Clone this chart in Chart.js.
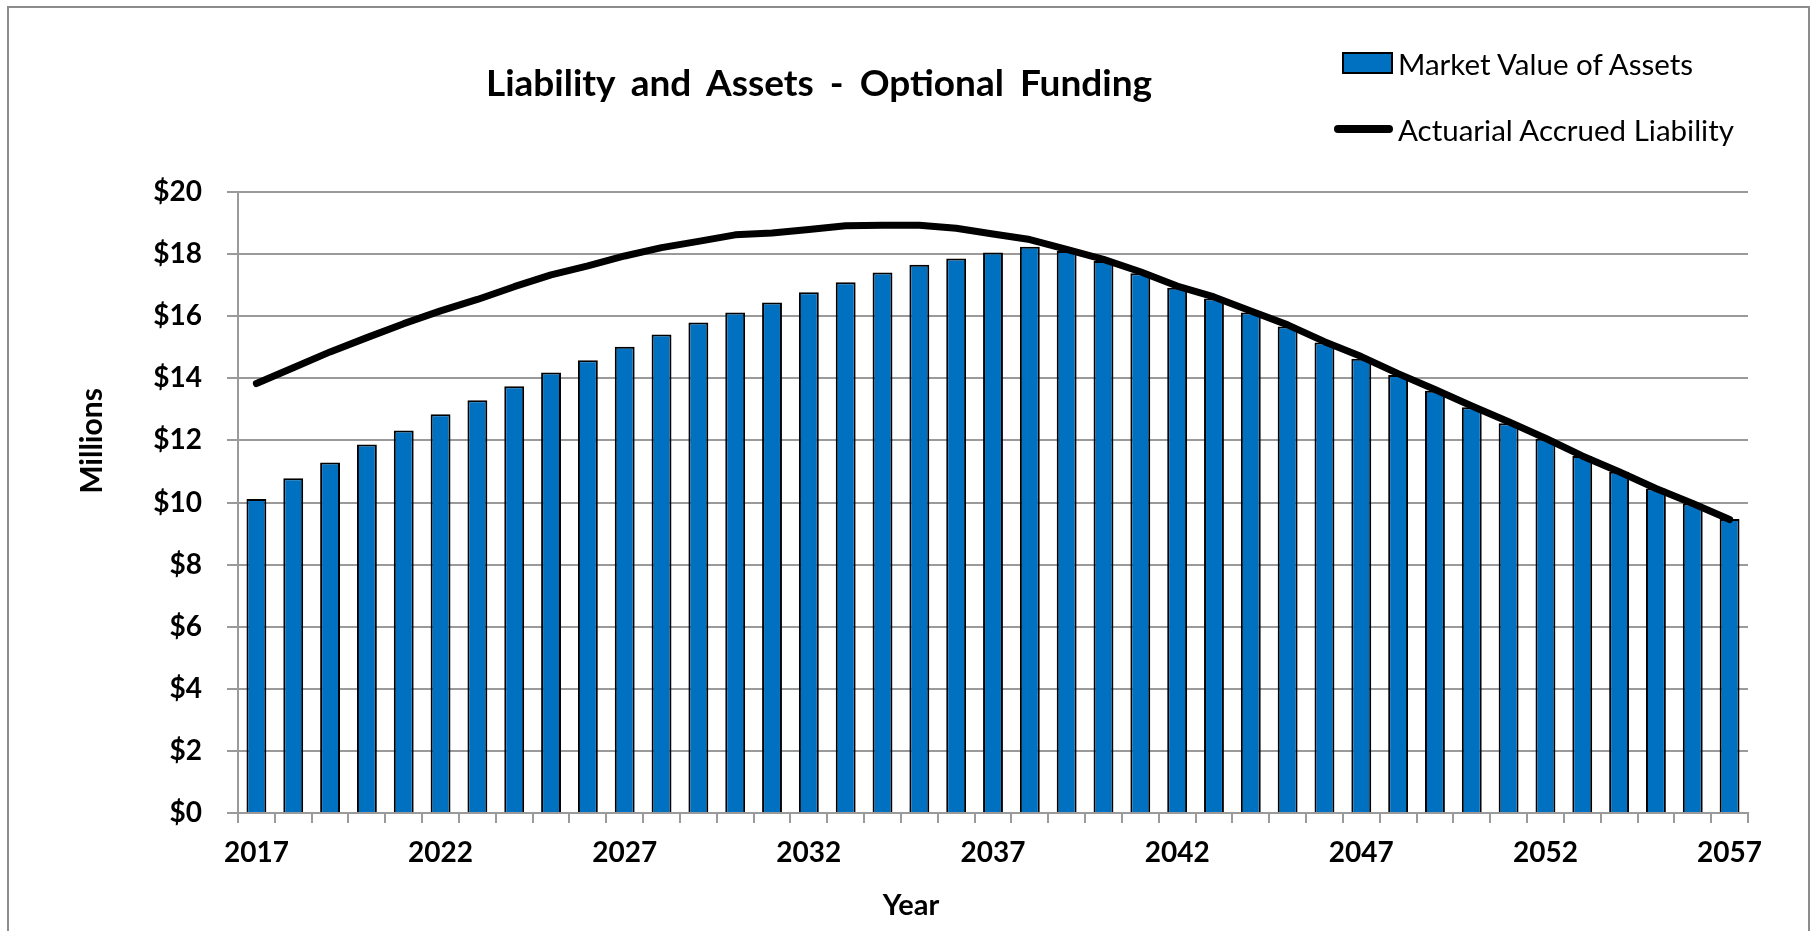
<!DOCTYPE html>
<html>
<head>
<meta charset="utf-8">
<script src="https://cdn.jsdelivr.net/npm/chart.js@4.4.1/dist/chart.umd.min.js"></script>
<style>
  body { margin: 0; background: #fff; overflow: hidden; font-family: Lato, sans-serif; }
  #wrap { position: relative; width: 1816px; height: 931px; }
  #grafico { position: absolute; left: 0; top: 0; }
  .frame { position: absolute; left: 7px; top: 6px; width: 1803px; height: 960px; border: 2px solid #8c8c8c; box-sizing: border-box; }
  #titulo { position: absolute; left: 819px; top: 81px; transform: translate(-50%, -50%); font-weight: 700; font-size: 37px; word-spacing: 7px; white-space: nowrap; color: #000; }
  #eixoY { position: absolute; left: 90px; top: 441px; transform: translate(-50%, -50%) rotate(-90deg); font-weight: 700; font-size: 30px; white-space: nowrap; }
  #eixoX { position: absolute; left: 911px; top: 903px; transform: translate(-50%, -50%); font-weight: 700; font-size: 29px; white-space: nowrap; }
  .leg { position: absolute; left: 1333px; height: 40px; display: flex; align-items: center; font-size: 29.5px; white-space: nowrap; }
  .leg .mk { width: 60px; margin-right: 5px; display: flex; justify-content: flex-end; }
</style>
</head>
<body>
<div id="wrap">
  <canvas id="grafico" width="1816" height="931"></canvas>
  <div class="frame"></div>
  <div id="titulo">Liability and Assets - Optional Funding</div>
  <div id="legenda"></div>
  <div id="eixoY">Millions</div>
  <div id="eixoX">Year</div>
</div>
<script>
// values in $ millions
const years = ['2017','2018','2019','2020','2021','2022','2023','2024','2025','2026',
  '2027','2028','2029','2030','2031','2032','2033','2034','2035','2036',
  '2037','2038','2039','2040','2041','2042','2043','2044','2045','2046',
  '2047','2048','2049','2050','2051','2052','2053','2054','2055','2056','2057'];

const assets = [10.11, 10.78, 11.29, 11.87, 12.32, 12.84, 13.29, 13.74, 14.19, 14.58,
  15.02, 15.41, 15.80, 16.12, 16.44, 16.77, 17.09, 17.41, 17.66, 17.86,
  18.05, 18.24, 18.10, 17.78, 17.38, 16.92, 16.57, 16.12, 15.67, 15.15,
  14.63, 14.11, 13.60, 13.07, 12.55, 12.05, 11.50, 10.99, 10.45, 9.97, 9.47];

const liability = [13.83, 14.34, 14.85, 15.31, 15.76, 16.17, 16.54, 16.95, 17.33, 17.62,
  17.94, 18.21, 18.41, 18.62, 18.68, 18.79, 18.91, 18.93, 18.93, 18.83,
  18.65, 18.47, 18.15, 17.83, 17.43, 16.97, 16.62, 16.17, 15.72, 15.18,
  14.70, 14.15, 13.64, 13.11, 12.60, 12.07, 11.50, 10.99, 10.45, 9.97, 9.45];

const shownYears = ['2017','2022','2027','2032','2037','2042','2047','2052','2057'];

Chart.defaults.font.family = 'Lato';
Chart.defaults.color = '#000';

const cinza = '#9a9a9a';

const data = {
  labels: years,
  datasets: [{
    type: 'line',
    label: 'Actuarial Accrued Liability',
    data: liability,
    borderColor: '#000',
    backgroundColor: '#000',
    borderWidth: 7,
    pointRadius: 0,
    tension: 0,
    borderCapStyle: 'round',
    borderJoinStyle: 'round',
    order: 0
  }, {
    type: 'bar',
    label: 'Market Value of Assets',
    data: assets,
    backgroundColor: '#0070C0',
    borderColor: '#000',
    borderWidth: 2,
    barPercentage: 0.54,
    categoryPercentage: 1,
    order: 1
  }]
};

const config = {
  type: 'bar',
  data: data,
  options: {
    responsive: false,
    animation: false,
    layout: { padding: { left: 8, right: 68, top: 192, bottom: 0 } },
    plugins: {
      legend: { display: false },
      title: { display: false },
      tooltip: { enabled: false }
    },
    scales: {
      x: {
        afterFit: function (scale) { scale.height = 118; },
        grid: { drawOnChartArea: false, color: cinza, lineWidth: 2, tickLength: 10 },
        border: { color: cinza, width: 2 },
        ticks: {
          autoSkip: false,
          maxRotation: 0,
          padding: 13,
          font: { size: 28, weight: 'bold' },
          callback: function (val) {
            const lab = this.getLabelForValue(val);
            return shownYears.includes(lab) ? lab : '';
          }
        }
      },
      y: {
        min: 0,
        max: 20,
        afterFit: function (scale) { scale.width = 230; },
        grid: { color: cinza, lineWidth: 2, tickLength: 11 },
        border: { color: cinza, width: 2 },
        ticks: {
          stepSize: 2,
          padding: 25,
          font: { size: 28, weight: 'bold' },
          callback: function (v) { return '$' + v; }
        }
      }
    }
  }
};

const ctx = document.getElementById('grafico').getContext('2d');
const grafico = new Chart(ctx, config);

// legend built from the datasets (bars first, like the original)
const legenda = document.getElementById('legenda');
const tops = [43, 109];
[grafico.data.datasets[1], grafico.data.datasets[0]].forEach(function (ds, i) {
  const item = document.createElement('div');
  item.className = 'leg';
  item.style.top = tops[i] + 'px';
  const mk = document.createElement('span');
  mk.className = 'mk';
  const sw = document.createElement('span');
  if (ds.type === 'bar') {
    sw.style.cssText = 'display:block;width:47px;height:18px;background:' + ds.backgroundColor + ';border:2px solid ' + ds.borderColor;
  } else {
    sw.style.cssText = 'display:block;width:59px;height:8px;border-radius:4px;background:' + ds.borderColor;
  }
  mk.appendChild(sw);
  item.appendChild(mk);
  item.appendChild(document.createTextNode(ds.label));
  legenda.appendChild(item);
});
</script>
</body>
</html>
